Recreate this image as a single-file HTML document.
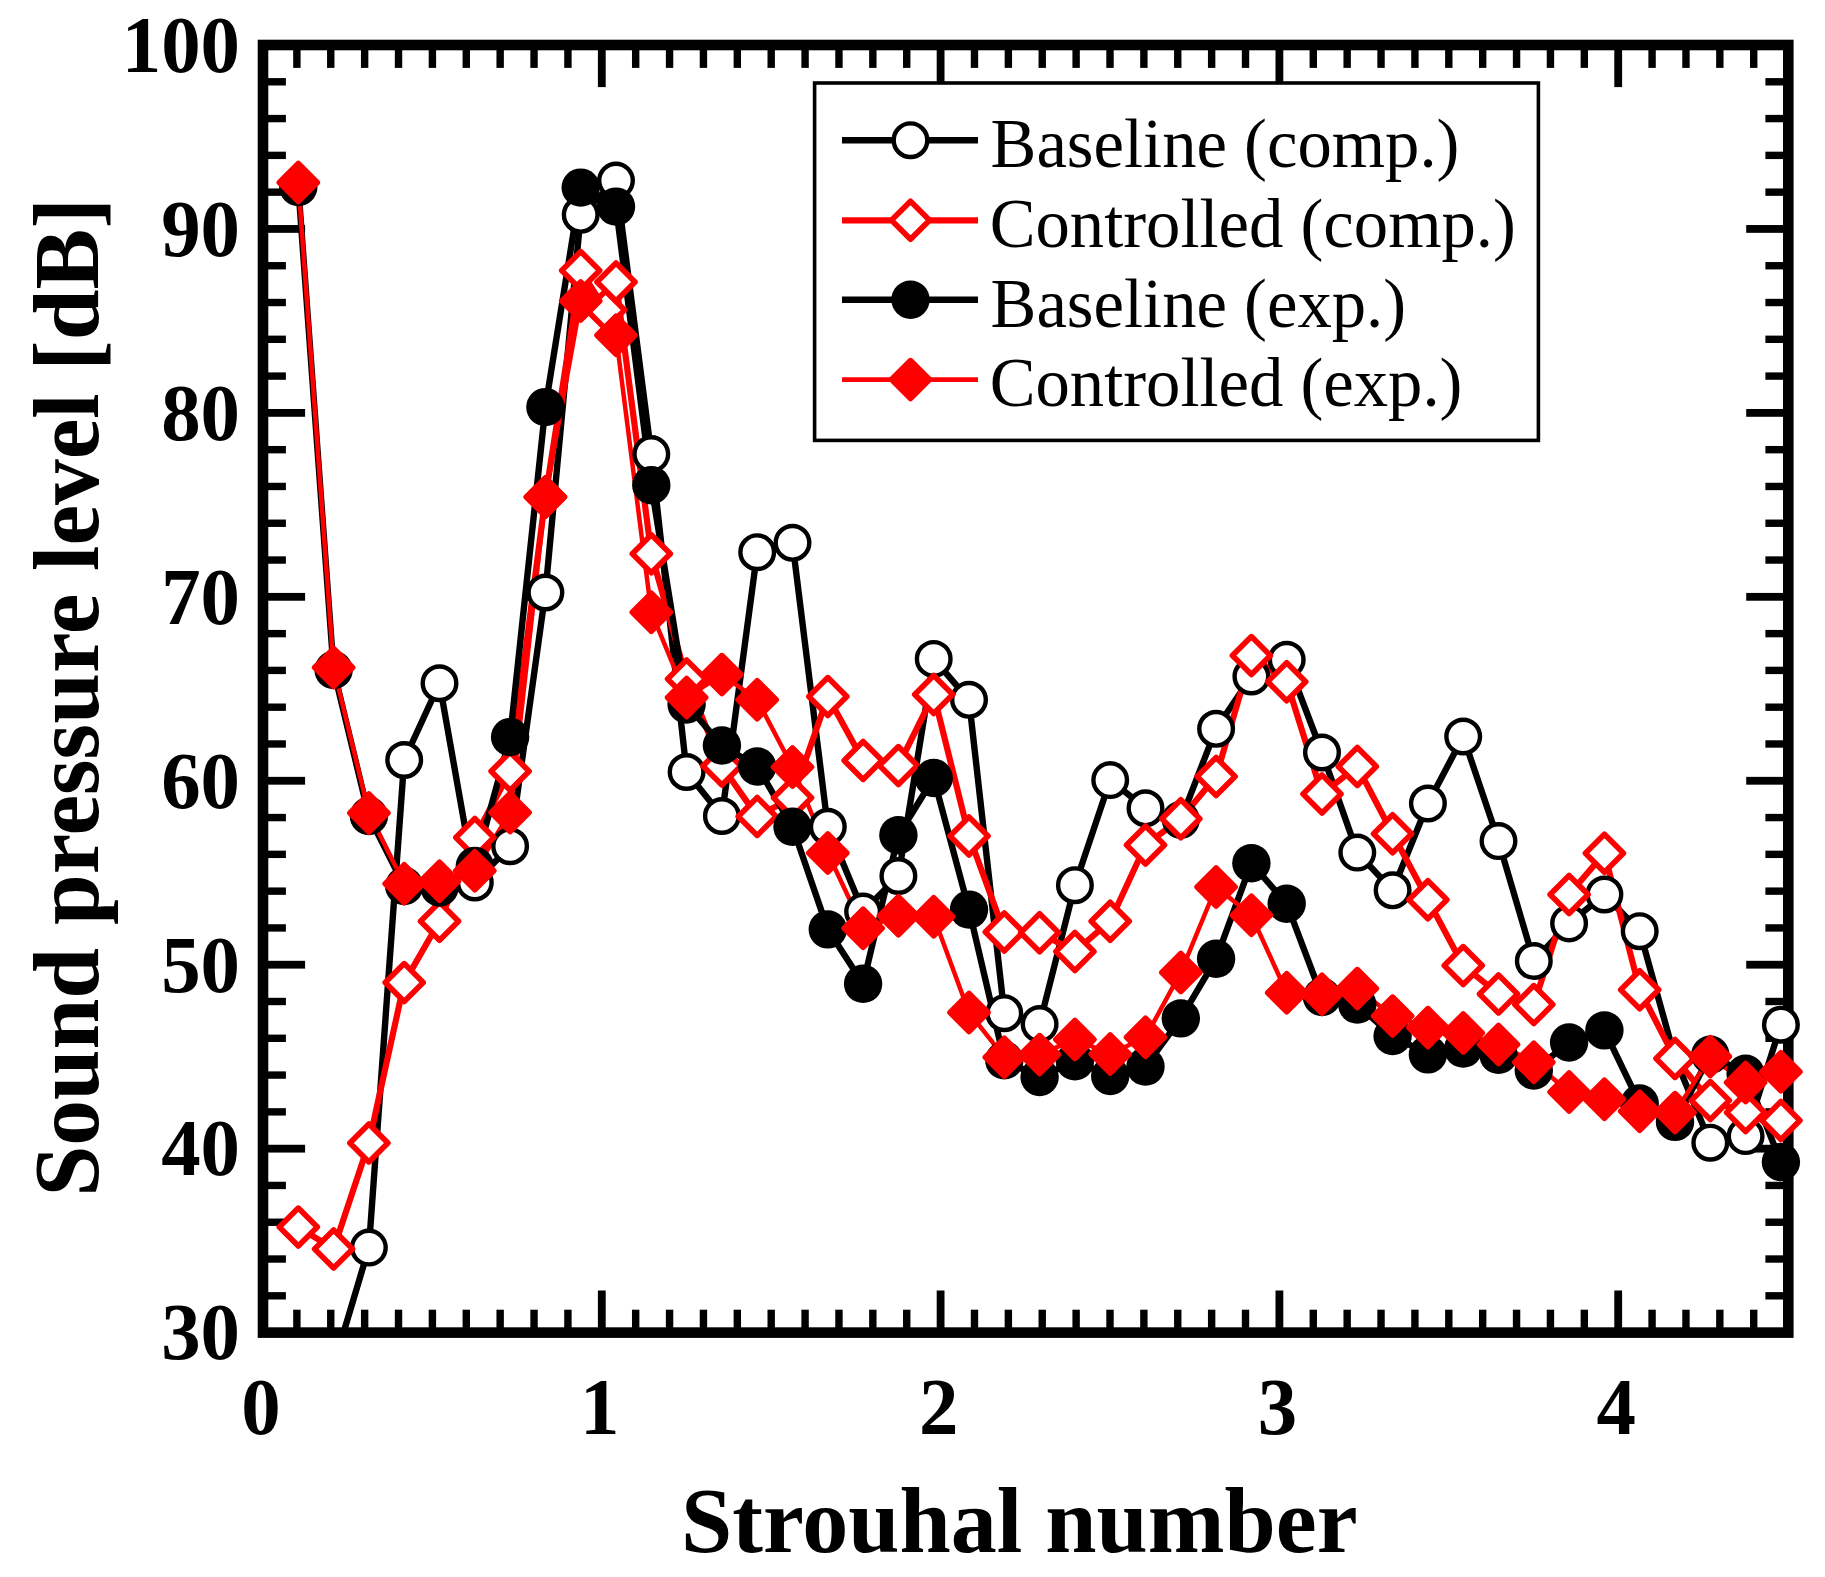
<!DOCTYPE html>
<html lang="en"><head><meta charset="utf-8"><title>Sound pressure level vs Strouhal number</title>
<style>html,body{margin:0;padding:0;background:#fff}body{width:1825px;height:1577px;overflow:hidden}svg{display:block}text{font-family:"Liberation Serif",serif;fill:#000}.b{font-weight:bold}</style></head><body>
<svg width="1825" height="1577" viewBox="0 0 1825 1577">
<rect x="0" y="0" width="1825" height="1577" fill="#fff"/>
<g fill="#000"><rect x="293.18" y="49.3" width="7.4" height="18.6"/><rect x="293.18" y="1309.7" width="7.4" height="18.6"/><rect x="327.06" y="49.3" width="7.4" height="18.6"/><rect x="327.06" y="1309.7" width="7.4" height="18.6"/><rect x="360.94" y="49.3" width="7.4" height="18.6"/><rect x="360.94" y="1309.7" width="7.4" height="18.6"/><rect x="394.82" y="49.3" width="7.4" height="18.6"/><rect x="394.82" y="1309.7" width="7.4" height="18.6"/><rect x="428.7" y="49.3" width="7.4" height="18.6"/><rect x="428.7" y="1309.7" width="7.4" height="18.6"/><rect x="462.58" y="49.3" width="7.4" height="18.6"/><rect x="462.58" y="1309.7" width="7.4" height="18.6"/><rect x="496.46" y="49.3" width="7.4" height="18.6"/><rect x="496.46" y="1309.7" width="7.4" height="18.6"/><rect x="530.34" y="49.3" width="7.4" height="18.6"/><rect x="530.34" y="1309.7" width="7.4" height="18.6"/><rect x="564.22" y="49.3" width="7.4" height="18.6"/><rect x="564.22" y="1309.7" width="7.4" height="18.6"/><rect x="597.9" y="49.3" width="7.8" height="37.8"/><rect x="597.9" y="1290.5" width="7.8" height="37.8"/><rect x="631.98" y="49.3" width="7.4" height="18.6"/><rect x="631.98" y="1309.7" width="7.4" height="18.6"/><rect x="665.86" y="49.3" width="7.4" height="18.6"/><rect x="665.86" y="1309.7" width="7.4" height="18.6"/><rect x="699.74" y="49.3" width="7.4" height="18.6"/><rect x="699.74" y="1309.7" width="7.4" height="18.6"/><rect x="733.62" y="49.3" width="7.4" height="18.6"/><rect x="733.62" y="1309.7" width="7.4" height="18.6"/><rect x="767.5" y="49.3" width="7.4" height="18.6"/><rect x="767.5" y="1309.7" width="7.4" height="18.6"/><rect x="801.38" y="49.3" width="7.4" height="18.6"/><rect x="801.38" y="1309.7" width="7.4" height="18.6"/><rect x="835.26" y="49.3" width="7.4" height="18.6"/><rect x="835.26" y="1309.7" width="7.4" height="18.6"/><rect x="869.14" y="49.3" width="7.4" height="18.6"/><rect x="869.14" y="1309.7" width="7.4" height="18.6"/><rect x="903.02" y="49.3" width="7.4" height="18.6"/><rect x="903.02" y="1309.7" width="7.4" height="18.6"/><rect x="936.7" y="49.3" width="7.8" height="37.8"/><rect x="936.7" y="1290.5" width="7.8" height="37.8"/><rect x="970.78" y="49.3" width="7.4" height="18.6"/><rect x="970.78" y="1309.7" width="7.4" height="18.6"/><rect x="1004.66" y="49.3" width="7.4" height="18.6"/><rect x="1004.66" y="1309.7" width="7.4" height="18.6"/><rect x="1038.54" y="49.3" width="7.4" height="18.6"/><rect x="1038.54" y="1309.7" width="7.4" height="18.6"/><rect x="1072.42" y="49.3" width="7.4" height="18.6"/><rect x="1072.42" y="1309.7" width="7.4" height="18.6"/><rect x="1106.3" y="49.3" width="7.4" height="18.6"/><rect x="1106.3" y="1309.7" width="7.4" height="18.6"/><rect x="1140.18" y="49.3" width="7.4" height="18.6"/><rect x="1140.18" y="1309.7" width="7.4" height="18.6"/><rect x="1174.06" y="49.3" width="7.4" height="18.6"/><rect x="1174.06" y="1309.7" width="7.4" height="18.6"/><rect x="1207.94" y="49.3" width="7.4" height="18.6"/><rect x="1207.94" y="1309.7" width="7.4" height="18.6"/><rect x="1241.82" y="49.3" width="7.4" height="18.6"/><rect x="1241.82" y="1309.7" width="7.4" height="18.6"/><rect x="1275.5" y="49.3" width="7.8" height="37.8"/><rect x="1275.5" y="1290.5" width="7.8" height="37.8"/><rect x="1309.58" y="49.3" width="7.4" height="18.6"/><rect x="1309.58" y="1309.7" width="7.4" height="18.6"/><rect x="1343.46" y="49.3" width="7.4" height="18.6"/><rect x="1343.46" y="1309.7" width="7.4" height="18.6"/><rect x="1377.34" y="49.3" width="7.4" height="18.6"/><rect x="1377.34" y="1309.7" width="7.4" height="18.6"/><rect x="1411.22" y="49.3" width="7.4" height="18.6"/><rect x="1411.22" y="1309.7" width="7.4" height="18.6"/><rect x="1445.1" y="49.3" width="7.4" height="18.6"/><rect x="1445.1" y="1309.7" width="7.4" height="18.6"/><rect x="1478.98" y="49.3" width="7.4" height="18.6"/><rect x="1478.98" y="1309.7" width="7.4" height="18.6"/><rect x="1512.86" y="49.3" width="7.4" height="18.6"/><rect x="1512.86" y="1309.7" width="7.4" height="18.6"/><rect x="1546.74" y="49.3" width="7.4" height="18.6"/><rect x="1546.74" y="1309.7" width="7.4" height="18.6"/><rect x="1580.62" y="49.3" width="7.4" height="18.6"/><rect x="1580.62" y="1309.7" width="7.4" height="18.6"/><rect x="1614.3" y="49.3" width="7.8" height="37.8"/><rect x="1614.3" y="1290.5" width="7.8" height="37.8"/><rect x="1648.38" y="49.3" width="7.4" height="18.6"/><rect x="1648.38" y="1309.7" width="7.4" height="18.6"/><rect x="1682.26" y="49.3" width="7.4" height="18.6"/><rect x="1682.26" y="1309.7" width="7.4" height="18.6"/><rect x="1716.14" y="49.3" width="7.4" height="18.6"/><rect x="1716.14" y="1309.7" width="7.4" height="18.6"/><rect x="1750.02" y="49.3" width="7.4" height="18.6"/><rect x="1750.02" y="1309.7" width="7.4" height="18.6"/><rect x="267.3" y="1292.11" width="18.6" height="7.4"/><rect x="1765.4" y="1292.11" width="18.6" height="7.4"/><rect x="267.3" y="1255.32" width="18.6" height="7.4"/><rect x="1765.4" y="1255.32" width="18.6" height="7.4"/><rect x="267.3" y="1218.53" width="18.6" height="7.4"/><rect x="1765.4" y="1218.53" width="18.6" height="7.4"/><rect x="267.3" y="1181.75" width="18.6" height="7.4"/><rect x="1765.4" y="1181.75" width="18.6" height="7.4"/><rect x="267.3" y="1144.76" width="37.8" height="7.8"/><rect x="1746.2" y="1144.76" width="37.8" height="7.8"/><rect x="267.3" y="1108.17" width="18.6" height="7.4"/><rect x="1765.4" y="1108.17" width="18.6" height="7.4"/><rect x="267.3" y="1071.38" width="18.6" height="7.4"/><rect x="1765.4" y="1071.38" width="18.6" height="7.4"/><rect x="267.3" y="1034.59" width="18.6" height="7.4"/><rect x="1765.4" y="1034.59" width="18.6" height="7.4"/><rect x="267.3" y="997.8" width="18.6" height="7.4"/><rect x="1765.4" y="997.8" width="18.6" height="7.4"/><rect x="267.3" y="960.81" width="37.8" height="7.8"/><rect x="1746.2" y="960.81" width="37.8" height="7.8"/><rect x="267.3" y="924.23" width="18.6" height="7.4"/><rect x="1765.4" y="924.23" width="18.6" height="7.4"/><rect x="267.3" y="887.44" width="18.6" height="7.4"/><rect x="1765.4" y="887.44" width="18.6" height="7.4"/><rect x="267.3" y="850.65" width="18.6" height="7.4"/><rect x="1765.4" y="850.65" width="18.6" height="7.4"/><rect x="267.3" y="813.86" width="18.6" height="7.4"/><rect x="1765.4" y="813.86" width="18.6" height="7.4"/><rect x="267.3" y="776.87" width="37.8" height="7.8"/><rect x="1746.2" y="776.87" width="37.8" height="7.8"/><rect x="267.3" y="740.28" width="18.6" height="7.4"/><rect x="1765.4" y="740.28" width="18.6" height="7.4"/><rect x="267.3" y="703.49" width="18.6" height="7.4"/><rect x="1765.4" y="703.49" width="18.6" height="7.4"/><rect x="267.3" y="666.71" width="18.6" height="7.4"/><rect x="1765.4" y="666.71" width="18.6" height="7.4"/><rect x="267.3" y="629.92" width="18.6" height="7.4"/><rect x="1765.4" y="629.92" width="18.6" height="7.4"/><rect x="267.3" y="592.93" width="37.8" height="7.8"/><rect x="1746.2" y="592.93" width="37.8" height="7.8"/><rect x="267.3" y="556.34" width="18.6" height="7.4"/><rect x="1765.4" y="556.34" width="18.6" height="7.4"/><rect x="267.3" y="519.55" width="18.6" height="7.4"/><rect x="1765.4" y="519.55" width="18.6" height="7.4"/><rect x="267.3" y="482.76" width="18.6" height="7.4"/><rect x="1765.4" y="482.76" width="18.6" height="7.4"/><rect x="267.3" y="445.97" width="18.6" height="7.4"/><rect x="1765.4" y="445.97" width="18.6" height="7.4"/><rect x="267.3" y="408.99" width="37.8" height="7.8"/><rect x="1746.2" y="408.99" width="37.8" height="7.8"/><rect x="267.3" y="372.4" width="18.6" height="7.4"/><rect x="1765.4" y="372.4" width="18.6" height="7.4"/><rect x="267.3" y="335.61" width="18.6" height="7.4"/><rect x="1765.4" y="335.61" width="18.6" height="7.4"/><rect x="267.3" y="298.82" width="18.6" height="7.4"/><rect x="1765.4" y="298.82" width="18.6" height="7.4"/><rect x="267.3" y="262.03" width="18.6" height="7.4"/><rect x="1765.4" y="262.03" width="18.6" height="7.4"/><rect x="267.3" y="225.04" width="37.8" height="7.8"/><rect x="1746.2" y="225.04" width="37.8" height="7.8"/><rect x="267.3" y="188.45" width="18.6" height="7.4"/><rect x="1765.4" y="188.45" width="18.6" height="7.4"/><rect x="267.3" y="151.67" width="18.6" height="7.4"/><rect x="1765.4" y="151.67" width="18.6" height="7.4"/><rect x="267.3" y="114.88" width="18.6" height="7.4"/><rect x="1765.4" y="114.88" width="18.6" height="7.4"/><rect x="267.3" y="78.09" width="18.6" height="7.4"/><rect x="1765.4" y="78.09" width="18.6" height="7.4"/></g>
<rect x="263" y="45" width="1525.3" height="1287.6" fill="none" stroke="#000" stroke-width="10.6"/>
<rect x="814.6" y="83" width="723.8" height="357.4" fill="#fff" stroke="#000" stroke-width="3.6"/>
<line x1="842" y1="140.2" x2="978" y2="140.2" stroke="#000" stroke-width="6.6"/>
<circle cx="910.5" cy="140.2" r="16.8" fill="#fff" stroke="#000" stroke-width="4.4"/>
<line x1="842" y1="220.3" x2="978" y2="220.3" stroke="#f00" stroke-width="6.3"/>
<path d="M910.5 201.3L929.5 220.3L910.5 239.3L891.5 220.3Z" fill="#fff" stroke="#f00" stroke-width="5.6" stroke-linejoin="round"/>
<line x1="842" y1="299.7" x2="978" y2="299.7" stroke="#000" stroke-width="6.6"/>
<circle cx="910.5" cy="299.7" r="19.2" fill="#000"/>
<line x1="842" y1="379.6" x2="978" y2="379.6" stroke="#f00" stroke-width="4.8"/>
<path d="M910.5 360.6L929.5 379.6L910.5 398.6L891.5 379.6Z" fill="#f00" stroke="#f00" stroke-width="5.6" stroke-linejoin="round"/>
<text x="990.61" y="167.1" font-size="70.5" textLength="468.82" lengthAdjust="spacingAndGlyphs">Baseline (comp.)</text>
<text x="989.79" y="246.8" font-size="70.5" textLength="526.06" lengthAdjust="spacingAndGlyphs">Controlled (comp.)</text>
<text x="990.61" y="326.5" font-size="70.5" textLength="415.43" lengthAdjust="spacingAndGlyphs">Baseline (exp.)</text>
<text x="989.79" y="406.2" font-size="70.5" textLength="472.67" lengthAdjust="spacingAndGlyphs">Controlled (exp.)</text>
<defs><clipPath id="pc"><rect x="263" y="45" width="1525.3" height="1287.6"/></clipPath></defs>
<g clip-path="url(#pc)"><polyline points="333.6,1366 368.9,1247.6 404.2,760 439.5,683.25 474.8,882.5 510.1,846.25 545.4,592.5 580.7,214.8 616,180.6 651.3,454.1 686.6,772 721.9,816 757.2,552.2 792.5,542.8 827.8,826.8 863.1,911.6 898.4,876 933.7,658.9 969,699.8 1004.3,1013.2 1039.6,1024.1 1074.9,885.2 1110.2,780.1 1145.5,808.3 1180.8,819.8 1216.1,728.8 1251.4,676.5 1286.7,659.8 1322,752.5 1357.3,852.6 1392.6,890.3 1427.9,803.5 1463.2,736.5 1498.5,841.1 1533.8,961 1569.1,923.4 1604.4,894.5 1639.7,931.2 1675,1058 1710.3,1142.7 1745.6,1136.1 1780.9,1024.7" fill="none" stroke="#000" stroke-width="6.4" stroke-linejoin="round" stroke-linecap="butt"/><polyline points="298.3,1227.1 333.6,1248.9 368.9,1142.9 404.2,982.6 439.5,921.25 474.8,837.5 510.1,771.25 545.4,497 580.7,270.6 605.6,310 616,282 651.3,553.7 686.6,679 721.9,766 757.2,816.4 792.5,797.7 827.8,696.6 863.1,760.4 898.4,765.6 933.7,694.5 969,836 1004.3,932 1039.6,932.7 1074.9,951.5 1110.2,921.2 1145.5,845 1180.8,818.8 1216.1,776.5 1251.4,655.6 1286.7,681.7 1322,794 1357.3,766.4 1392.6,833.8 1427.9,899.7 1463.2,965.6 1498.5,993.9 1533.8,1004.6 1569.1,894.5 1604.4,853.3 1639.7,989.8 1675,1058.4 1710.3,1100.6 1745.6,1112.6 1780.9,1120.5" fill="none" stroke="#f00" stroke-width="6.2" stroke-linejoin="round" stroke-linecap="butt"/><polyline points="298.3,187 333.6,670 368.9,816 404.2,886 439.5,887.5 474.8,866 510.1,737 545.4,407.1 580.7,187.6 616,206.6 651.3,485.2 686.6,704.5 721.9,745.5 757.2,766.5 792.5,826.8 827.8,929.4 863.1,983.8 898.4,835.2 933.7,778 969,909.6 1004.3,1060.3 1039.6,1077 1074.9,1061.3 1110.2,1076 1145.5,1066.6 1180.8,1018.4 1216.1,958.8 1251.4,863.2 1286.7,903.7 1322,997 1357.3,1004.6 1392.6,1036 1427.9,1054.4 1463.2,1048.6 1498.5,1054.8 1533.8,1070.5 1569.1,1042.5 1604.4,1030.4 1639.7,1103.5 1675,1121.9 1710.3,1054.8 1745.6,1073.8 1780.9,1162" fill="none" stroke="#000" stroke-width="6.4" stroke-linejoin="round" stroke-linecap="butt"/><polyline points="298.3,182.5 333.6,667.5 368.9,813 404.2,883.75 439.5,881.25 474.8,870.75 510.1,812.5 545.4,497 580.7,301 616,335.3 651.3,612.2 686.6,697.5 721.9,674.6 757.2,699.7 792.5,767 827.8,853 863.1,928.3 898.4,915.8 933.7,916.8 969,1012.5 1004.3,1057.2 1039.6,1054.6 1074.9,1039.4 1110.2,1054 1145.5,1037.3 1180.8,972.4 1216.1,887 1251.4,915.2 1286.7,992.7 1322,994.3 1357.3,988.6 1392.6,1016.1 1427.9,1027.6 1463.2,1032.9 1498.5,1044.4 1533.8,1062.2 1569.1,1092 1604.4,1099.3 1639.7,1111.3 1675,1112.6 1710.3,1056.6 1745.6,1082.5 1780.9,1071.7" fill="none" stroke="#f00" stroke-width="4.5" stroke-linejoin="round" stroke-linecap="butt"/></g>
<g><circle cx="368.9" cy="1247.6" r="16.8" fill="#fff" stroke="#000" stroke-width="4.4"/><circle cx="404.2" cy="760" r="16.8" fill="#fff" stroke="#000" stroke-width="4.4"/><circle cx="439.5" cy="683.25" r="16.8" fill="#fff" stroke="#000" stroke-width="4.4"/><circle cx="474.8" cy="882.5" r="16.8" fill="#fff" stroke="#000" stroke-width="4.4"/><circle cx="510.1" cy="846.25" r="16.8" fill="#fff" stroke="#000" stroke-width="4.4"/><circle cx="545.4" cy="592.5" r="16.8" fill="#fff" stroke="#000" stroke-width="4.4"/><circle cx="580.7" cy="214.8" r="16.8" fill="#fff" stroke="#000" stroke-width="4.4"/><circle cx="616" cy="180.6" r="16.8" fill="#fff" stroke="#000" stroke-width="4.4"/><circle cx="651.3" cy="454.1" r="16.8" fill="#fff" stroke="#000" stroke-width="4.4"/><circle cx="686.6" cy="772" r="16.8" fill="#fff" stroke="#000" stroke-width="4.4"/><circle cx="721.9" cy="816" r="16.8" fill="#fff" stroke="#000" stroke-width="4.4"/><circle cx="757.2" cy="552.2" r="16.8" fill="#fff" stroke="#000" stroke-width="4.4"/><circle cx="792.5" cy="542.8" r="16.8" fill="#fff" stroke="#000" stroke-width="4.4"/><circle cx="827.8" cy="826.8" r="16.8" fill="#fff" stroke="#000" stroke-width="4.4"/><circle cx="863.1" cy="911.6" r="16.8" fill="#fff" stroke="#000" stroke-width="4.4"/><circle cx="898.4" cy="876" r="16.8" fill="#fff" stroke="#000" stroke-width="4.4"/><circle cx="933.7" cy="658.9" r="16.8" fill="#fff" stroke="#000" stroke-width="4.4"/><circle cx="969" cy="699.8" r="16.8" fill="#fff" stroke="#000" stroke-width="4.4"/><circle cx="1004.3" cy="1013.2" r="16.8" fill="#fff" stroke="#000" stroke-width="4.4"/><circle cx="1039.6" cy="1024.1" r="16.8" fill="#fff" stroke="#000" stroke-width="4.4"/><circle cx="1074.9" cy="885.2" r="16.8" fill="#fff" stroke="#000" stroke-width="4.4"/><circle cx="1110.2" cy="780.1" r="16.8" fill="#fff" stroke="#000" stroke-width="4.4"/><circle cx="1145.5" cy="808.3" r="16.8" fill="#fff" stroke="#000" stroke-width="4.4"/><circle cx="1180.8" cy="819.8" r="16.8" fill="#fff" stroke="#000" stroke-width="4.4"/><circle cx="1216.1" cy="728.8" r="16.8" fill="#fff" stroke="#000" stroke-width="4.4"/><circle cx="1251.4" cy="676.5" r="16.8" fill="#fff" stroke="#000" stroke-width="4.4"/><circle cx="1286.7" cy="659.8" r="16.8" fill="#fff" stroke="#000" stroke-width="4.4"/><circle cx="1322" cy="752.5" r="16.8" fill="#fff" stroke="#000" stroke-width="4.4"/><circle cx="1357.3" cy="852.6" r="16.8" fill="#fff" stroke="#000" stroke-width="4.4"/><circle cx="1392.6" cy="890.3" r="16.8" fill="#fff" stroke="#000" stroke-width="4.4"/><circle cx="1427.9" cy="803.5" r="16.8" fill="#fff" stroke="#000" stroke-width="4.4"/><circle cx="1463.2" cy="736.5" r="16.8" fill="#fff" stroke="#000" stroke-width="4.4"/><circle cx="1498.5" cy="841.1" r="16.8" fill="#fff" stroke="#000" stroke-width="4.4"/><circle cx="1533.8" cy="961" r="16.8" fill="#fff" stroke="#000" stroke-width="4.4"/><circle cx="1569.1" cy="923.4" r="16.8" fill="#fff" stroke="#000" stroke-width="4.4"/><circle cx="1604.4" cy="894.5" r="16.8" fill="#fff" stroke="#000" stroke-width="4.4"/><circle cx="1639.7" cy="931.2" r="16.8" fill="#fff" stroke="#000" stroke-width="4.4"/><circle cx="1710.3" cy="1142.7" r="16.8" fill="#fff" stroke="#000" stroke-width="4.4"/><circle cx="1745.6" cy="1136.1" r="16.8" fill="#fff" stroke="#000" stroke-width="4.4"/><circle cx="1780.9" cy="1024.7" r="16.8" fill="#fff" stroke="#000" stroke-width="4.4"/></g>
<g><path d="M298.3 1208.1L317.3 1227.1L298.3 1246.1L279.3 1227.1Z" fill="#fff" stroke="#f00" stroke-width="5.6" stroke-linejoin="round"/><path d="M333.6 1229.9L352.6 1248.9L333.6 1267.9L314.6 1248.9Z" fill="#fff" stroke="#f00" stroke-width="5.6" stroke-linejoin="round"/><path d="M368.9 1123.9L387.9 1142.9L368.9 1161.9L349.9 1142.9Z" fill="#fff" stroke="#f00" stroke-width="5.6" stroke-linejoin="round"/><path d="M404.2 963.6L423.2 982.6L404.2 1001.6L385.2 982.6Z" fill="#fff" stroke="#f00" stroke-width="5.6" stroke-linejoin="round"/><path d="M439.5 902.25L458.5 921.25L439.5 940.25L420.5 921.25Z" fill="#fff" stroke="#f00" stroke-width="5.6" stroke-linejoin="round"/><path d="M474.8 818.5L493.8 837.5L474.8 856.5L455.8 837.5Z" fill="#fff" stroke="#f00" stroke-width="5.6" stroke-linejoin="round"/><path d="M510.1 752.25L529.1 771.25L510.1 790.25L491.1 771.25Z" fill="#fff" stroke="#f00" stroke-width="5.6" stroke-linejoin="round"/><path d="M545.4 478L564.4 497L545.4 516L526.4 497Z" fill="#fff" stroke="#f00" stroke-width="5.6" stroke-linejoin="round"/><path d="M580.7 251.6L599.7 270.6L580.7 289.6L561.7 270.6Z" fill="#fff" stroke="#f00" stroke-width="5.6" stroke-linejoin="round"/><path d="M605.6 291L624.6 310L605.6 329L586.6 310Z" fill="#fff" stroke="#f00" stroke-width="5.6" stroke-linejoin="round"/><path d="M616 263L635 282L616 301L597 282Z" fill="#fff" stroke="#f00" stroke-width="5.6" stroke-linejoin="round"/><path d="M651.3 534.7L670.3 553.7L651.3 572.7L632.3 553.7Z" fill="#fff" stroke="#f00" stroke-width="5.6" stroke-linejoin="round"/><path d="M686.6 660L705.6 679L686.6 698L667.6 679Z" fill="#fff" stroke="#f00" stroke-width="5.6" stroke-linejoin="round"/><path d="M721.9 747L740.9 766L721.9 785L702.9 766Z" fill="#fff" stroke="#f00" stroke-width="5.6" stroke-linejoin="round"/><path d="M757.2 797.4L776.2 816.4L757.2 835.4L738.2 816.4Z" fill="#fff" stroke="#f00" stroke-width="5.6" stroke-linejoin="round"/><path d="M792.5 778.7L811.5 797.7L792.5 816.7L773.5 797.7Z" fill="#fff" stroke="#f00" stroke-width="5.6" stroke-linejoin="round"/><path d="M827.8 677.6L846.8 696.6L827.8 715.6L808.8 696.6Z" fill="#fff" stroke="#f00" stroke-width="5.6" stroke-linejoin="round"/><path d="M863.1 741.4L882.1 760.4L863.1 779.4L844.1 760.4Z" fill="#fff" stroke="#f00" stroke-width="5.6" stroke-linejoin="round"/><path d="M898.4 746.6L917.4 765.6L898.4 784.6L879.4 765.6Z" fill="#fff" stroke="#f00" stroke-width="5.6" stroke-linejoin="round"/><path d="M933.7 675.5L952.7 694.5L933.7 713.5L914.7 694.5Z" fill="#fff" stroke="#f00" stroke-width="5.6" stroke-linejoin="round"/><path d="M969 817L988 836L969 855L950 836Z" fill="#fff" stroke="#f00" stroke-width="5.6" stroke-linejoin="round"/><path d="M1004.3 913L1023.3 932L1004.3 951L985.3 932Z" fill="#fff" stroke="#f00" stroke-width="5.6" stroke-linejoin="round"/><path d="M1039.6 913.7L1058.6 932.7L1039.6 951.7L1020.6 932.7Z" fill="#fff" stroke="#f00" stroke-width="5.6" stroke-linejoin="round"/><path d="M1074.9 932.5L1093.9 951.5L1074.9 970.5L1055.9 951.5Z" fill="#fff" stroke="#f00" stroke-width="5.6" stroke-linejoin="round"/><path d="M1110.2 902.2L1129.2 921.2L1110.2 940.2L1091.2 921.2Z" fill="#fff" stroke="#f00" stroke-width="5.6" stroke-linejoin="round"/><path d="M1145.5 826L1164.5 845L1145.5 864L1126.5 845Z" fill="#fff" stroke="#f00" stroke-width="5.6" stroke-linejoin="round"/><path d="M1180.8 799.8L1199.8 818.8L1180.8 837.8L1161.8 818.8Z" fill="#fff" stroke="#f00" stroke-width="5.6" stroke-linejoin="round"/><path d="M1216.1 757.5L1235.1 776.5L1216.1 795.5L1197.1 776.5Z" fill="#fff" stroke="#f00" stroke-width="5.6" stroke-linejoin="round"/><path d="M1251.4 636.6L1270.4 655.6L1251.4 674.6L1232.4 655.6Z" fill="#fff" stroke="#f00" stroke-width="5.6" stroke-linejoin="round"/><path d="M1286.7 662.7L1305.7 681.7L1286.7 700.7L1267.7 681.7Z" fill="#fff" stroke="#f00" stroke-width="5.6" stroke-linejoin="round"/><path d="M1322 775L1341 794L1322 813L1303 794Z" fill="#fff" stroke="#f00" stroke-width="5.6" stroke-linejoin="round"/><path d="M1357.3 747.4L1376.3 766.4L1357.3 785.4L1338.3 766.4Z" fill="#fff" stroke="#f00" stroke-width="5.6" stroke-linejoin="round"/><path d="M1392.6 814.8L1411.6 833.8L1392.6 852.8L1373.6 833.8Z" fill="#fff" stroke="#f00" stroke-width="5.6" stroke-linejoin="round"/><path d="M1427.9 880.7L1446.9 899.7L1427.9 918.7L1408.9 899.7Z" fill="#fff" stroke="#f00" stroke-width="5.6" stroke-linejoin="round"/><path d="M1463.2 946.6L1482.2 965.6L1463.2 984.6L1444.2 965.6Z" fill="#fff" stroke="#f00" stroke-width="5.6" stroke-linejoin="round"/><path d="M1498.5 974.9L1517.5 993.9L1498.5 1012.9L1479.5 993.9Z" fill="#fff" stroke="#f00" stroke-width="5.6" stroke-linejoin="round"/><path d="M1533.8 985.6L1552.8 1004.6L1533.8 1023.6L1514.8 1004.6Z" fill="#fff" stroke="#f00" stroke-width="5.6" stroke-linejoin="round"/><path d="M1569.1 875.5L1588.1 894.5L1569.1 913.5L1550.1 894.5Z" fill="#fff" stroke="#f00" stroke-width="5.6" stroke-linejoin="round"/><path d="M1604.4 834.3L1623.4 853.3L1604.4 872.3L1585.4 853.3Z" fill="#fff" stroke="#f00" stroke-width="5.6" stroke-linejoin="round"/><path d="M1639.7 970.8L1658.7 989.8L1639.7 1008.8L1620.7 989.8Z" fill="#fff" stroke="#f00" stroke-width="5.6" stroke-linejoin="round"/><path d="M1675 1039.4L1694 1058.4L1675 1077.4L1656 1058.4Z" fill="#fff" stroke="#f00" stroke-width="5.6" stroke-linejoin="round"/><path d="M1710.3 1081.6L1729.3 1100.6L1710.3 1119.6L1691.3 1100.6Z" fill="#fff" stroke="#f00" stroke-width="5.6" stroke-linejoin="round"/><path d="M1745.6 1093.6L1764.6 1112.6L1745.6 1131.6L1726.6 1112.6Z" fill="#fff" stroke="#f00" stroke-width="5.6" stroke-linejoin="round"/><path d="M1780.9 1101.5L1799.9 1120.5L1780.9 1139.5L1761.9 1120.5Z" fill="#fff" stroke="#f00" stroke-width="5.6" stroke-linejoin="round"/></g>
<g><circle cx="298.3" cy="187" r="19.2" fill="#000"/><circle cx="333.6" cy="670" r="19.2" fill="#000"/><circle cx="368.9" cy="816" r="19.2" fill="#000"/><circle cx="404.2" cy="886" r="19.2" fill="#000"/><circle cx="439.5" cy="887.5" r="19.2" fill="#000"/><circle cx="474.8" cy="866" r="19.2" fill="#000"/><circle cx="510.1" cy="737" r="19.2" fill="#000"/><circle cx="545.4" cy="407.1" r="19.2" fill="#000"/><circle cx="580.7" cy="187.6" r="19.2" fill="#000"/><circle cx="616" cy="206.6" r="19.2" fill="#000"/><circle cx="651.3" cy="485.2" r="19.2" fill="#000"/><circle cx="686.6" cy="704.5" r="19.2" fill="#000"/><circle cx="721.9" cy="745.5" r="19.2" fill="#000"/><circle cx="757.2" cy="766.5" r="19.2" fill="#000"/><circle cx="792.5" cy="826.8" r="19.2" fill="#000"/><circle cx="827.8" cy="929.4" r="19.2" fill="#000"/><circle cx="863.1" cy="983.8" r="19.2" fill="#000"/><circle cx="898.4" cy="835.2" r="19.2" fill="#000"/><circle cx="933.7" cy="778" r="19.2" fill="#000"/><circle cx="969" cy="909.6" r="19.2" fill="#000"/><circle cx="1004.3" cy="1060.3" r="19.2" fill="#000"/><circle cx="1039.6" cy="1077" r="19.2" fill="#000"/><circle cx="1074.9" cy="1061.3" r="19.2" fill="#000"/><circle cx="1110.2" cy="1076" r="19.2" fill="#000"/><circle cx="1145.5" cy="1066.6" r="19.2" fill="#000"/><circle cx="1180.8" cy="1018.4" r="19.2" fill="#000"/><circle cx="1216.1" cy="958.8" r="19.2" fill="#000"/><circle cx="1251.4" cy="863.2" r="19.2" fill="#000"/><circle cx="1286.7" cy="903.7" r="19.2" fill="#000"/><circle cx="1322" cy="997" r="19.2" fill="#000"/><circle cx="1357.3" cy="1004.6" r="19.2" fill="#000"/><circle cx="1392.6" cy="1036" r="19.2" fill="#000"/><circle cx="1427.9" cy="1054.4" r="19.2" fill="#000"/><circle cx="1463.2" cy="1048.6" r="19.2" fill="#000"/><circle cx="1498.5" cy="1054.8" r="19.2" fill="#000"/><circle cx="1533.8" cy="1070.5" r="19.2" fill="#000"/><circle cx="1569.1" cy="1042.5" r="19.2" fill="#000"/><circle cx="1604.4" cy="1030.4" r="19.2" fill="#000"/><circle cx="1639.7" cy="1103.5" r="19.2" fill="#000"/><circle cx="1675" cy="1121.9" r="19.2" fill="#000"/><circle cx="1710.3" cy="1054.8" r="19.2" fill="#000"/><circle cx="1745.6" cy="1073.8" r="19.2" fill="#000"/><circle cx="1780.9" cy="1162" r="19.2" fill="#000"/></g>
<g><path d="M298.3 163.5L317.3 182.5L298.3 201.5L279.3 182.5Z" fill="#f00" stroke="#f00" stroke-width="5.6" stroke-linejoin="round"/><path d="M333.6 648.5L352.6 667.5L333.6 686.5L314.6 667.5Z" fill="#f00" stroke="#f00" stroke-width="5.6" stroke-linejoin="round"/><path d="M368.9 794L387.9 813L368.9 832L349.9 813Z" fill="#f00" stroke="#f00" stroke-width="5.6" stroke-linejoin="round"/><path d="M404.2 864.75L423.2 883.75L404.2 902.75L385.2 883.75Z" fill="#f00" stroke="#f00" stroke-width="5.6" stroke-linejoin="round"/><path d="M439.5 862.25L458.5 881.25L439.5 900.25L420.5 881.25Z" fill="#f00" stroke="#f00" stroke-width="5.6" stroke-linejoin="round"/><path d="M474.8 851.75L493.8 870.75L474.8 889.75L455.8 870.75Z" fill="#f00" stroke="#f00" stroke-width="5.6" stroke-linejoin="round"/><path d="M510.1 793.5L529.1 812.5L510.1 831.5L491.1 812.5Z" fill="#f00" stroke="#f00" stroke-width="5.6" stroke-linejoin="round"/><path d="M545.4 478L564.4 497L545.4 516L526.4 497Z" fill="#f00" stroke="#f00" stroke-width="5.6" stroke-linejoin="round"/><path d="M580.7 282L599.7 301L580.7 320L561.7 301Z" fill="#f00" stroke="#f00" stroke-width="5.6" stroke-linejoin="round"/><path d="M616 316.3L635 335.3L616 354.3L597 335.3Z" fill="#f00" stroke="#f00" stroke-width="5.6" stroke-linejoin="round"/><path d="M651.3 593.2L670.3 612.2L651.3 631.2L632.3 612.2Z" fill="#f00" stroke="#f00" stroke-width="5.6" stroke-linejoin="round"/><path d="M686.6 678.5L705.6 697.5L686.6 716.5L667.6 697.5Z" fill="#f00" stroke="#f00" stroke-width="5.6" stroke-linejoin="round"/><path d="M721.9 655.6L740.9 674.6L721.9 693.6L702.9 674.6Z" fill="#f00" stroke="#f00" stroke-width="5.6" stroke-linejoin="round"/><path d="M757.2 680.7L776.2 699.7L757.2 718.7L738.2 699.7Z" fill="#f00" stroke="#f00" stroke-width="5.6" stroke-linejoin="round"/><path d="M792.5 748L811.5 767L792.5 786L773.5 767Z" fill="#f00" stroke="#f00" stroke-width="5.6" stroke-linejoin="round"/><path d="M827.8 834L846.8 853L827.8 872L808.8 853Z" fill="#f00" stroke="#f00" stroke-width="5.6" stroke-linejoin="round"/><path d="M863.1 909.3L882.1 928.3L863.1 947.3L844.1 928.3Z" fill="#f00" stroke="#f00" stroke-width="5.6" stroke-linejoin="round"/><path d="M898.4 896.8L917.4 915.8L898.4 934.8L879.4 915.8Z" fill="#f00" stroke="#f00" stroke-width="5.6" stroke-linejoin="round"/><path d="M933.7 897.8L952.7 916.8L933.7 935.8L914.7 916.8Z" fill="#f00" stroke="#f00" stroke-width="5.6" stroke-linejoin="round"/><path d="M969 993.5L988 1012.5L969 1031.5L950 1012.5Z" fill="#f00" stroke="#f00" stroke-width="5.6" stroke-linejoin="round"/><path d="M1004.3 1038.2L1023.3 1057.2L1004.3 1076.2L985.3 1057.2Z" fill="#f00" stroke="#f00" stroke-width="5.6" stroke-linejoin="round"/><path d="M1039.6 1035.6L1058.6 1054.6L1039.6 1073.6L1020.6 1054.6Z" fill="#f00" stroke="#f00" stroke-width="5.6" stroke-linejoin="round"/><path d="M1074.9 1020.4L1093.9 1039.4L1074.9 1058.4L1055.9 1039.4Z" fill="#f00" stroke="#f00" stroke-width="5.6" stroke-linejoin="round"/><path d="M1110.2 1035L1129.2 1054L1110.2 1073L1091.2 1054Z" fill="#f00" stroke="#f00" stroke-width="5.6" stroke-linejoin="round"/><path d="M1145.5 1018.3L1164.5 1037.3L1145.5 1056.3L1126.5 1037.3Z" fill="#f00" stroke="#f00" stroke-width="5.6" stroke-linejoin="round"/><path d="M1180.8 953.4L1199.8 972.4L1180.8 991.4L1161.8 972.4Z" fill="#f00" stroke="#f00" stroke-width="5.6" stroke-linejoin="round"/><path d="M1216.1 868L1235.1 887L1216.1 906L1197.1 887Z" fill="#f00" stroke="#f00" stroke-width="5.6" stroke-linejoin="round"/><path d="M1251.4 896.2L1270.4 915.2L1251.4 934.2L1232.4 915.2Z" fill="#f00" stroke="#f00" stroke-width="5.6" stroke-linejoin="round"/><path d="M1286.7 973.7L1305.7 992.7L1286.7 1011.7L1267.7 992.7Z" fill="#f00" stroke="#f00" stroke-width="5.6" stroke-linejoin="round"/><path d="M1322 975.3L1341 994.3L1322 1013.3L1303 994.3Z" fill="#f00" stroke="#f00" stroke-width="5.6" stroke-linejoin="round"/><path d="M1357.3 969.6L1376.3 988.6L1357.3 1007.6L1338.3 988.6Z" fill="#f00" stroke="#f00" stroke-width="5.6" stroke-linejoin="round"/><path d="M1392.6 997.1L1411.6 1016.1L1392.6 1035.1L1373.6 1016.1Z" fill="#f00" stroke="#f00" stroke-width="5.6" stroke-linejoin="round"/><path d="M1427.9 1008.6L1446.9 1027.6L1427.9 1046.6L1408.9 1027.6Z" fill="#f00" stroke="#f00" stroke-width="5.6" stroke-linejoin="round"/><path d="M1463.2 1013.9L1482.2 1032.9L1463.2 1051.9L1444.2 1032.9Z" fill="#f00" stroke="#f00" stroke-width="5.6" stroke-linejoin="round"/><path d="M1498.5 1025.4L1517.5 1044.4L1498.5 1063.4L1479.5 1044.4Z" fill="#f00" stroke="#f00" stroke-width="5.6" stroke-linejoin="round"/><path d="M1533.8 1043.2L1552.8 1062.2L1533.8 1081.2L1514.8 1062.2Z" fill="#f00" stroke="#f00" stroke-width="5.6" stroke-linejoin="round"/><path d="M1569.1 1073L1588.1 1092L1569.1 1111L1550.1 1092Z" fill="#f00" stroke="#f00" stroke-width="5.6" stroke-linejoin="round"/><path d="M1604.4 1080.3L1623.4 1099.3L1604.4 1118.3L1585.4 1099.3Z" fill="#f00" stroke="#f00" stroke-width="5.6" stroke-linejoin="round"/><path d="M1639.7 1092.3L1658.7 1111.3L1639.7 1130.3L1620.7 1111.3Z" fill="#f00" stroke="#f00" stroke-width="5.6" stroke-linejoin="round"/><path d="M1675 1093.6L1694 1112.6L1675 1131.6L1656 1112.6Z" fill="#f00" stroke="#f00" stroke-width="5.6" stroke-linejoin="round"/><path d="M1710.3 1037.6L1729.3 1056.6L1710.3 1075.6L1691.3 1056.6Z" fill="#f00" stroke="#f00" stroke-width="5.6" stroke-linejoin="round"/><path d="M1745.6 1063.5L1764.6 1082.5L1745.6 1101.5L1726.6 1082.5Z" fill="#f00" stroke="#f00" stroke-width="5.6" stroke-linejoin="round"/><path d="M1780.9 1052.7L1799.9 1071.7L1780.9 1090.7L1761.9 1071.7Z" fill="#f00" stroke="#f00" stroke-width="5.6" stroke-linejoin="round"/></g>
<text class="b" x="240" y="1359.4" font-size="80" text-anchor="end" textLength="78.8" lengthAdjust="spacingAndGlyphs">30</text>
<text class="b" x="240" y="1175.46" font-size="80" text-anchor="end" textLength="78.8" lengthAdjust="spacingAndGlyphs">40</text>
<text class="b" x="240" y="991.51" font-size="80" text-anchor="end" textLength="78.8" lengthAdjust="spacingAndGlyphs">50</text>
<text class="b" x="240" y="807.57" font-size="80" text-anchor="end" textLength="78.8" lengthAdjust="spacingAndGlyphs">60</text>
<text class="b" x="240" y="623.63" font-size="80" text-anchor="end" textLength="78.8" lengthAdjust="spacingAndGlyphs">70</text>
<text class="b" x="240" y="439.69" font-size="80" text-anchor="end" textLength="78.8" lengthAdjust="spacingAndGlyphs">80</text>
<text class="b" x="240" y="255.74" font-size="80" text-anchor="end" textLength="78.8" lengthAdjust="spacingAndGlyphs">90</text>
<text class="b" x="240" y="71.8" font-size="80" text-anchor="end" textLength="118.2" lengthAdjust="spacingAndGlyphs">100</text>
<text class="b" x="261" y="1434.3" font-size="80" text-anchor="middle" textLength="39.4" lengthAdjust="spacingAndGlyphs">0</text>
<text class="b" x="599.8" y="1434.3" font-size="80" text-anchor="middle" textLength="39.4" lengthAdjust="spacingAndGlyphs">1</text>
<text class="b" x="938.6" y="1434.3" font-size="80" text-anchor="middle" textLength="39.4" lengthAdjust="spacingAndGlyphs">2</text>
<text class="b" x="1277.4" y="1434.3" font-size="80" text-anchor="middle" textLength="39.4" lengthAdjust="spacingAndGlyphs">3</text>
<text class="b" x="1616.2" y="1434.3" font-size="80" text-anchor="middle" textLength="39.4" lengthAdjust="spacingAndGlyphs">4</text>
<text class="b" x="681" y="1551.7" font-size="93.5" textLength="676.6" lengthAdjust="spacingAndGlyphs">Strouhal number</text>
<text class="b" transform="translate(98.3 1196.6) rotate(-90)" x="0" y="0" font-size="93.5" textLength="998.4" lengthAdjust="spacingAndGlyphs">Sound pressure level [dB]</text>
</svg></body></html>
